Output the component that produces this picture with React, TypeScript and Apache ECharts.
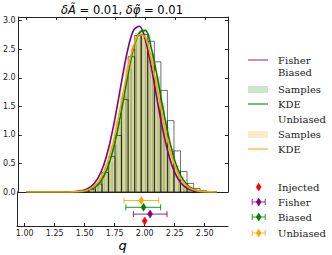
import React, { useEffect, useRef } from "react";
import * as echarts from "echarts";

// ---- data ----
const xTicks = [1.0, 1.25, 1.5, 1.75, 2.0, 2.25, 2.5];
const yTicks = [0, 0.5, 1.0, 1.5, 2.0, 2.5, 3.0];

const curveX = [1.0, 1.05, 1.1, 1.15, 1.2, 1.25, 1.3, 1.35, 1.4, 1.45, 1.5, 1.55, 1.6, 1.65, 1.7, 1.75, 1.8, 1.85, 1.9, 1.95, 2.0, 2.05, 2.1, 2.15, 2.2, 2.25, 2.3, 2.35, 2.4, 2.45, 2.5, 2.55, 2.6];
const fisherY = [0, 0, 0, 0, 0, 0.0001, 0.0004, 0.0014, 0.005, 0.015, 0.043, 0.106, 0.237, 0.473, 0.845, 1.351, 1.933, 2.473, 2.832, 2.902, 2.661, 2.184, 1.604, 1.053, 0.619, 0.326, 0.154, 0.065, 0.024, 0.008, 0.003, 0.001, 0.0002];
const biasedKdeY = [0, 0, 0, 0, 0, 0, 0.0001, 0.0005, 0.002, 0.006, 0.019, 0.052, 0.125, 0.273, 0.53, 0.925, 1.442, 2.014, 2.515, 2.79, 2.83, 2.515, 2.014, 1.442, 0.925, 0.53, 0.273, 0.125, 0.052, 0.019, 0.006, 0.002, 0.0005];
const unbiasedKdeY = [0, 0, 0, 0, 0, 0, 0.0002, 0.001, 0.003, 0.01, 0.028, 0.073, 0.167, 0.345, 0.639, 1.063, 1.586, 2.124, 2.553, 2.754, 2.71, 2.317, 1.806, 1.264, 0.793, 0.447, 0.226, 0.103, 0.042, 0.015, 0.005, 0.0015, 0.0004];

const biasedEdges = [1.44, 1.48, 1.52, 1.56, 1.6, 1.64, 1.68, 1.72, 1.76, 1.8, 1.84, 1.88, 1.92, 1.96, 2.0, 2.04, 2.08, 2.12, 2.16, 2.2, 2.24, 2.28, 2.32, 2.36, 2.4, 2.44, 2.48, 2.52, 2.56, 2.6];
const biasedCounts = [0.008, 0.02, 0.045, 0.09, 0.17, 0.32, 0.52, 0.82, 1.23, 1.68, 2.15, 2.5, 2.78, 2.84, 2.74, 2.42, 2.02, 1.55, 1.13, 0.75, 0.47, 0.27, 0.15, 0.075, 0.035, 0.015, 0.006, 0.002, 0.001];

const unbiasedEdges = [1.43, 1.475, 1.52, 1.565, 1.61, 1.655, 1.7, 1.745, 1.79, 1.835, 1.88, 1.925, 1.97, 2.015, 2.06, 2.105, 2.15, 2.195, 2.24, 2.285, 2.33, 2.375, 2.42, 2.465, 2.51, 2.555, 2.6];
const unbiasedCounts = [0.011, 0.027, 0.063, 0.137, 0.271, 0.491, 0.814, 1.237, 1.724, 2.2, 2.57, 2.75, 2.7, 2.42, 1.994, 1.504, 1.038, 0.657, 0.381, 0.202, 0.098, 0.044, 0.018, 0.007, 0.0025, 0.001];

const outlineEdges = [1.47, 1.525, 1.58, 1.635, 1.69, 1.745, 1.8, 1.855, 1.91, 1.965, 2.02, 2.075, 2.13, 2.185, 2.24, 2.295, 2.35, 2.405, 2.46, 2.515, 2.57];
const outlineCounts = [0.02, 0.05, 0.14, 0.34, 0.62, 0.99, 1.62, 2.37, 2.74, 2.76, 2.64, 2.28, 1.78, 1.25, 0.72, 0.36, 0.15, 0.06, 0.02, 0.006];

const ebNames = ["Injected", "Fisher", "Biased", "Unbiased"];
const ebCenter = [2.0, 2.045, 1.99, 1.972];
const ebLow = [2.0, 1.906, 1.843, 1.827];
const ebHigh = [2.0, 2.186, 2.133, 2.118];
const ebLevel = [1, 2, 3, 4];

// ---- styles ----
const XMIN = 0.936;
const XMAX = 2.694;
const YMAX = 3.065;
const PURPLE = "#800080";
const GREEN = "#008000";
const ORANGE = "#ffa500";
const RED = "#ff0000";
const ebColors = [RED, PURPLE, GREEN, ORANGE];
const AXIS = "#222";
const SANS = "DejaVu Sans";
const SERIF = "DejaVu Serif";

function histData(edges: number[], counts: number[]) {
  return counts.map((c, i) => [edges[i], edges[i + 1], c]);
}

function histSeries(data: number[][], fill: string, stroke: string, lw: number) {
  return {
    type: "custom",
    xAxisIndex: 0,
    yAxisIndex: 0,
    clip: true,
    encode: { x: [0, 1], y: 2 },
    data,
    renderItem: (params: any, api: any) => {
      const p0 = api.coord([api.value(0), api.value(2)]);
      const p1 = api.coord([api.value(1), 0]);
      return {
        type: "rect",
        shape: { x: p0[0], y: p0[1], width: p1[0] - p0[0], height: p1[1] - p0[1] },
        style: { fill, stroke, lineWidth: lw },
      };
    },
  };
}

function diamond(cx: number, cy: number, w: number, h: number, color: string) {
  return {
    type: "polygon",
    shape: { points: [[cx, cy - h / 2], [cx + w / 2, cy], [cx, cy + h / 2], [cx - w / 2, cy]] },
    style: { fill: color, stroke: color, lineWidth: 0.5 },
  };
}

export default function App() {
  const ref = useRef<HTMLDivElement>(null);
  useEffect(() => {
    document.body.style.margin = "0";
    const chart = echarts.init(ref.current!, null, { renderer: "svg" });

    const lineSeries = (name: string, ys: number[], color: string) => ({
      type: "line",
      name,
      xAxisIndex: 0,
      yAxisIndex: 0,
      data: curveX.map((x, i) => [x, ys[i]]),
      showSymbol: false,
      smooth: 0.35,
      clip: true,
      lineStyle: { color, width: 1.6 },
    });

    const legendX = 248;
    const textX = 278;
    const legendTexts: [string, number][] = [
      ["Fisher", 60], ["Biased", 72], ["Samples", 89], ["KDE", 104],
      ["Unbiased", 119], ["Samples", 134], ["KDE", 149],
      ["Injected", 187], ["Fisher", 202], ["Biased", 217], ["Unbiased", 233],
    ];
    const graphics: any[] = [];
    legendTexts.forEach(([t, y]) => {
      graphics.push({
        type: "text", x: textX, y,
        style: { text: t, font: `10px ${SERIF}`, fill: "#222", textVerticalAlign: "middle", textAlign: "left" },
      });
    });
    graphics.push({ type: "line", shape: { x1: legendX, y1: 60, x2: legendX + 20, y2: 60 }, style: { stroke: PURPLE, lineWidth: 1.5, opacity: 0.6 } });
    graphics.push({ type: "rect", shape: { x: legendX, y: 86, width: 20, height: 7 }, style: { fill: "rgba(0,128,0,0.2)" } });
    graphics.push({ type: "line", shape: { x1: legendX, y1: 104, x2: legendX + 20, y2: 104 }, style: { stroke: GREEN, lineWidth: 1.5, opacity: 0.7 } });
    graphics.push({ type: "rect", shape: { x: legendX, y: 131, width: 20, height: 7 }, style: { fill: "rgba(255,165,0,0.22)" } });
    graphics.push({ type: "line", shape: { x1: legendX, y1: 149, x2: legendX + 20, y2: 149 }, style: { stroke: ORANGE, lineWidth: 1.5, opacity: 0.7 } });
    const mk = legendX + 10.7;
    [187, 202, 217, 233].forEach((y, i) => {
      const c = ebColors[i];
      if (i > 0) {
        graphics.push({ type: "line", shape: { x1: mk - 6.5, y1: y, x2: mk + 6.5, y2: y }, style: { stroke: c, lineWidth: 1, opacity: 0.8 } });
        graphics.push({ type: "line", shape: { x1: mk - 6.5, y1: y - 3, x2: mk - 6.5, y2: y + 3 }, style: { stroke: c, lineWidth: 1, opacity: 0.8 } });
        graphics.push({ type: "line", shape: { x1: mk + 6.5, y1: y - 3, x2: mk + 6.5, y2: y + 3 }, style: { stroke: c, lineWidth: 1, opacity: 0.8 } });
      }
      graphics.push(diamond(mk, y, 5, 8, c));
    });
    graphics.push({
      type: "text", x: 122, y: 10,
      style: {
        text: "{i|δÃ} = 0.01, {i|δφ̃} = 0.01",
        font: `11.5px ${SANS}`, fill: "#000", textAlign: "center", textVerticalAlign: "middle",
        rich: { i: { fontStyle: "italic", fontFamily: SANS, fontSize: 11.5 } },
      },
    });
    graphics.push({
      type: "text", x: 122.5, y: 245,
      style: { text: "q", font: `italic 13px ${SANS}`, fill: "#000", textAlign: "center", textVerticalAlign: "middle" },
    });

    const hiddenLabel = { show: false };
    const option: any = {
      animation: false,
      backgroundColor: "#fff",
      grid: [
        { left: 17, top: 17, width: 211, height: 175 },
        { left: 17, top: 192, width: 211, height: 34 },
      ],
      xAxis: [
        {
          gridIndex: 0, type: "value", min: XMIN, max: XMAX, position: "bottom",
          axisLine: { show: true, onZero: false, lineStyle: { color: AXIS, width: 1 } },
          axisTick: { show: false }, axisLabel: hiddenLabel, splitLine: { show: false },
        },
        {
          gridIndex: 0, type: "value", min: XMIN, max: XMAX, position: "top",
          axisLine: { show: true, onZero: false, lineStyle: { color: AXIS, width: 1 } },
          axisTick: { show: true, inside: true, length: 3, customValues: xTicks, lineStyle: { color: AXIS } },
          axisLabel: hiddenLabel, splitLine: { show: false },
        },
        {
          gridIndex: 1, type: "value", min: XMIN, max: XMAX, position: "bottom",
          axisLine: { show: true, onZero: false, lineStyle: { color: AXIS, width: 1 } },
          axisTick: { show: true, inside: true, length: 3, customValues: xTicks, lineStyle: { color: AXIS } },
          axisLabel: {
            show: true, customValues: xTicks, margin: 3, color: "#222", fontFamily: SANS, fontSize: 8,
            formatter: (v: number) => v.toFixed(2),
          },
          splitLine: { show: false },
        },
      ],
      yAxis: [
        {
          gridIndex: 0, type: "value", min: 0, max: YMAX, position: "left",
          axisLine: { show: true, onZero: false, lineStyle: { color: AXIS, width: 1 } },
          axisTick: { show: true, inside: true, length: 3, customValues: yTicks, lineStyle: { color: AXIS } },
          axisLabel: {
            show: true, customValues: yTicks, margin: 3, color: "#222", fontFamily: SANS, fontSize: 8,
            formatter: (v: number) => v.toFixed(1),
          },
          splitLine: { show: false },
        },
        {
          gridIndex: 0, type: "value", min: 0, max: YMAX, position: "right",
          axisLine: { show: true, onZero: false, lineStyle: { color: AXIS, width: 1 } },
          axisTick: { show: true, inside: true, length: 3, customValues: yTicks, lineStyle: { color: AXIS } },
          axisLabel: hiddenLabel, splitLine: { show: false },
        },
        {
          gridIndex: 1, type: "value", min: 0.25, max: 5.25, position: "left",
          axisLine: { show: true, onZero: false, lineStyle: { color: AXIS, width: 1 } },
          axisTick: { show: false }, axisLabel: hiddenLabel, splitLine: { show: false },
        },
      ],
      series: [
        histSeries(histData(unbiasedEdges, unbiasedCounts), "rgba(255,165,0,0.25)", "rgba(120,110,40,0.25)", 0.7),
        histSeries(histData(biasedEdges, biasedCounts), "rgba(0,128,0,0.16)", "rgba(60,100,30,0.22)", 0.7),
        histSeries(histData(outlineEdges, outlineCounts), "none", "rgba(0,0,0,0.7)", 0.8),
        lineSeries("Fisher", fisherY, PURPLE),
        lineSeries("Biased KDE", biasedKdeY, GREEN),
        lineSeries("Unbiased KDE", unbiasedKdeY, ORANGE),
        {
          type: "custom",
          name: "estimates",
          xAxisIndex: 2,
          yAxisIndex: 2,
          encode: { x: [0, 1, 2], y: 3 },
          data: ebNames.map((n, i) => ({ name: n, value: [ebCenter[i], ebLow[i], ebHigh[i], ebLevel[i]] })),
          renderItem: (params: any, api: any) => {
            const i = params.dataIndex;
            const color = ebColors[i];
            const lv = api.value(3);
            const c = api.coord([api.value(0), lv]);
            const l = api.coord([api.value(1), lv]);
            const r = api.coord([api.value(2), lv]);
            const children: any[] = [];
            if (r[0] - l[0] > 0.5) {
              const st = { stroke: color, lineWidth: 1, opacity: 0.85 };
              children.push({ type: "line", shape: { x1: l[0], y1: l[1], x2: r[0], y2: r[1] }, style: st });
              children.push({ type: "line", shape: { x1: l[0], y1: l[1] - 3, x2: l[0], y2: l[1] + 3 }, style: st });
              children.push({ type: "line", shape: { x1: r[0], y1: r[1] - 3, x2: r[0], y2: r[1] + 3 }, style: st });
            }
            children.push(diamond(c[0], c[1], 5, 8, color));
            return { type: "group", children };
          },
        },
      ],
      graphic: graphics,
    };
    chart.setOption(option);
    return () => chart.dispose();
  }, []);
  return <div ref={ref} style={{ position: "absolute", left: 0, top: 0, width: 332, height: 255, background: "#fff" }} />;
}
